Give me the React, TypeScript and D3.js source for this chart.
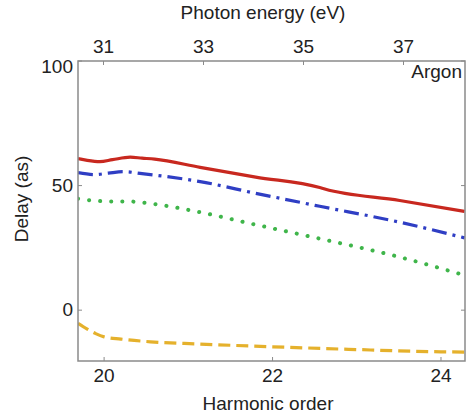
import React from "react";
import * as d3 from "d3";

const harmonicTicks = [20, 22, 24];
const energyTicks = [31, 33, 35, 37];
const delayTicks = [0, 50, 100];

const redQ = [19.69, 19.8, 19.95, 20.1, 20.31, 20.45, 20.6, 21.14, 21.8, 22.56, 22.62, 23.51, 24.28];
const redV = [60.8, 60.1, 59.6, 60.4, 61.4, 61.0, 60.6, 57.3, 53.4, 49.2, 48.6, 44.0, 39.6];

const blueQ = [19.69, 19.89, 20.05, 20.23, 20.45, 21.14, 21.8, 22.56, 23.51, 24.28];
const blueV = [55.2, 54.4, 55.0, 55.6, 54.8, 51.6, 46.9, 41.7, 35.3, 29.0];

const greenQ = [19.69, 19.9, 20.1, 20.31, 20.5, 21.14, 21.8, 22.56, 23.51, 24.28];
const greenV = [44.7, 43.9, 43.6, 43.6, 43.0, 39.3, 34.3, 28.7, 21.3, 14.0];

const yellowQ = [19.69, 19.8, 19.9, 20.0, 20.2, 20.55, 21.14, 22.0, 22.9, 24.0, 24.28];
const yellowV = [-5.3, -7.6, -9.4, -10.7, -11.6, -12.7, -13.6, -14.7, -15.7, -16.7, -16.8];

const W = 468, H = 417;
const L = 78, R = 465, T = 61, B = 361;

export default function App() {
  const x = d3.scaleLinear().domain([19.69, 24.285]).range([L, R]);
  const xTop = d3.scaleLinear().domain([30.49, 38.23]).range([L, R]);
  const y = d3.scaleLinear().domain([-20.4, 100]).range([B, T]);
  const line = d3.line<[number, number]>().x(d => x(d[0])).y(d => y(d[1])).curve(d3.curveMonotoneX);
  const mk = (q: number[], v: number[]) => line(q.map((qq, i) => [qq, v[i]]) as [number, number][]) || "";
  const font = "Liberation Sans, Arial, sans-serif";
  const axisCol = "#8a8a8a";
  const fs = 19;
  return (
    <svg width={W} height={H} style={{ position: "absolute", left: 0, top: 0 }} fontFamily={font}>
      <rect x={0} y={0} width={W} height={H} fill="#fff" />
      <defs>
        <clipPath id="clip"><rect x={L} y={T} width={R - L} height={B - T} /></clipPath>
      </defs>
      <g clipPath="url(#clip)" fill="none" strokeWidth={3.2}>
        <path d={mk(yellowQ, yellowV)} stroke="#e5b12c" strokeDasharray="12 6" />
        <path d={mk(greenQ, greenV)} stroke="#3fb54a" strokeDasharray="0.1 11" strokeLinecap="round" strokeWidth={4} />
        <path d={mk(blueQ, blueV)} stroke="#2f3ec4" strokeDasharray="15 6 3 6" />
        <path d={mk(redQ, redV)} stroke="#c8281f" />
      </g>
      <rect x={L} y={T} width={R - L} height={B - T} fill="none" stroke={axisCol} strokeWidth={1.5} />
      {harmonicTicks.map(t => (
        <g key={"b" + t}>
          <line x1={x(t)} x2={x(t)} y1={B} y2={B - 4} stroke={axisCol} />
          <text x={x(t)} y={B + 21} fontSize={fs} textAnchor="middle" fill="#222">{t}</text>
        </g>
      ))}
      {energyTicks.map(t => (
        <g key={"t" + t}>
          <line x1={xTop(t)} x2={xTop(t)} y1={T} y2={T + 4} stroke={axisCol} />
          <text x={xTop(t)} y={T - 8} fontSize={fs} textAnchor="middle" fill="#222">{t}</text>
        </g>
      ))}
      {delayTicks.map(t => (
        <g key={"l" + t}>
          <line x1={L} x2={L + 4} y1={y(t)} y2={y(t)} stroke={axisCol} />
          <line x1={R} x2={R - 4} y1={y(t)} y2={y(t)} stroke={axisCol} />
          <text x={L - 5} y={Math.max(y(t) + 6, T + 12)} fontSize={fs} textAnchor="end" fill="#222">{t}</text>
        </g>
      ))}
      <text x={268} y={410} fontSize={fs} textAnchor="middle" fill="#222">Harmonic order</text>
      <text x={263} y={19} fontSize={fs} textAnchor="middle" fill="#222">Photon energy (eV)</text>
      <text transform={`translate(28,199) rotate(-90)`} fontSize={fs} textAnchor="middle" fill="#222">Delay (as)</text>
      <text x={R - 3} y={78} fontSize={fs} textAnchor="end" fill="#222">Argon</text>
    </svg>
  );
}
